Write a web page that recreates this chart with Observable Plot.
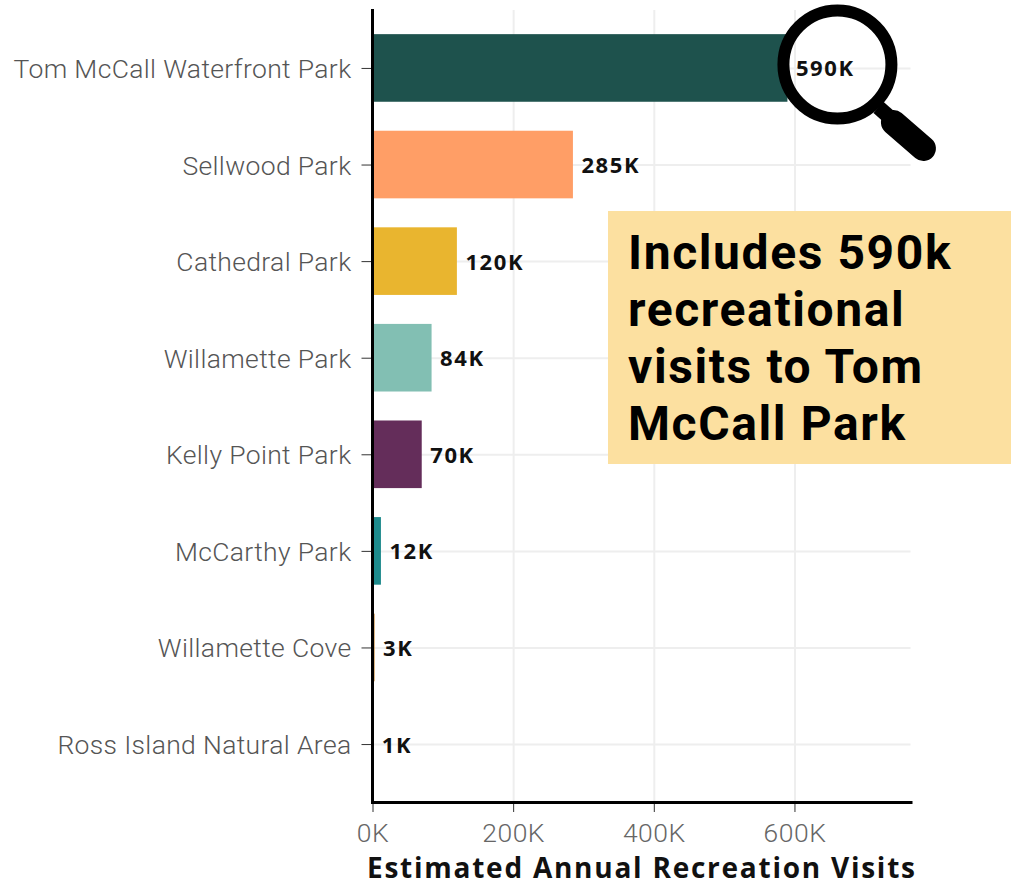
<!DOCTYPE html>
<html><head><meta charset="utf-8">
<script src="https://cdn.jsdelivr.net/npm/d3@7"></script>
<script src="https://cdn.jsdelivr.net/npm/@observablehq/plot@0.6"></script>
<style>html,body{margin:0;padding:0;background:#fff;overflow:hidden}#c{position:relative;width:1011px;height:886px;overflow:hidden}svg{position:absolute;left:0;top:0}
#note{position:absolute;left:608px;top:211px;width:403px;height:253px;background:#fce0a0;color:#000;font:700 48px/57px Roboto,sans-serif;padding:13px 0 0 20px;box-sizing:border-box;white-space:pre;letter-spacing:1.6px}
</style>
</head><body><div id="c"></div>
<script>
const parks=["Tom McCall Waterfront Park","Sellwood Park","Cathedral Park","Willamette Park","Kelly Point Park","McCarthy Park","Willamette Cove","Ross Island Natural Area"];
const visits=[590000,285000,120000,84000,70000,12000,3000,1000];
const labels=["590K","285K","120K","84K","70K","12K","3K","1K"];
const colors=["#1e524d","#ff9e66","#e9b52f","#82bfb3","#642d5a","#1d8a8c","#c68a3a","#e8e8e8"];
const xTicks=[0,200000,400000,600000];
const calloutLines=["Includes 590k","recreational","visits to Tom","McCall Park"];
const axisTitle="Estimated Annual Recreation Visits";
const rows=parks.map((p,i)=>({park:p,v:visits[i],label:labels[i],color:colors[i]}));
const font="Roboto, sans-serif";
const fmt=d=>d/1000+"K";
// magnifier icon, anchored on the end of the first bar
const magnifier=(index,{x,y},values,dims)=>{
  const cx=x(visits[0])+50, cy=y(parks[0])+y.bandwidth()/2-3.5;
  const g=d3.create("svg:g").attr("stroke","#000").attr("fill","none").attr("stroke-linecap","round");
  g.append("circle").attr("cx",cx).attr("cy",cy).attr("r",54).attr("stroke-width",12);
  g.append("line").attr("x1",cx+41).attr("y1",cy+43).attr("x2",cx+58).attr("y2",cy+58).attr("stroke-width",15).attr("stroke-linecap","butt");
  g.append("line").attr("x1",cx+56).attr("y1",cy+58).attr("x2",cx+86).attr("y2",cy+84).attr("stroke-width",25);
  return g.node();
};
const chart=Plot.plot({
 width:1011,height:886,marginLeft:372.5,marginRight:100.5,marginTop:10,marginBottom:84,
 style:{background:"transparent",fontFamily:font},
 x:{domain:[0,765000],label:null},
 y:{domain:parks,paddingInner:0.3,paddingOuter:0.25,round:false,label:null},
 marks:[
  Plot.gridX(xTicks,{stroke:"#eeeeee",strokeOpacity:1,strokeWidth:2}),
  Plot.gridY(parks,{stroke:"#eeeeee",strokeOpacity:1,strokeWidth:2}),
  Plot.barX(rows,{x:"v",y:"park",fill:d=>d.color}),
  Plot.axisY({tickSize:11,text:null,stroke:"#333",label:null}),
  Plot.axisY({tickSize:0,tickPadding:21.5,dy:1,fontSize:26.5,fontWeight:300,fill:"#555",label:null}),
  Plot.axisX({ticks:xTicks,text:null,stroke:"#333",tickSize:10,label:null}),
  Plot.axisX({ticks:xTicks,tickFormat:fmt,tickSize:0,tickPadding:21,fontSize:26.5,fontWeight:300,fill:"#666",label:null}),
  Plot.frame({anchor:"left",stroke:"#000",strokeWidth:3,dx:-0.5}),
  Plot.frame({anchor:"bottom",stroke:"#000",strokeWidth:3}),
  Plot.text(rows,{x:"v",y:"park",text:"label",dx:8,dy:1,textAnchor:"start",fontFamily:"'Open Sans',sans-serif",fontSize:22,fontWeight:700,fill:"#111"}),
  Plot.text([axisTitle],{frameAnchor:"bottom-left",dx:-6,dy:75,textAnchor:"start",fontFamily:"'Open Sans',sans-serif",fontSize:28,fontWeight:700,fill:"#111"}),
  magnifier
 ]
});
// Plot has no letter-spacing option, so set it on the rendered labels
const tickTexts=xTicks.map(fmt);
chart.querySelectorAll("text").forEach(t=>{
  const s=t.textContent;
  const sp=parks.includes(s)?.35:labels.includes(s)?1.6:tickTexts.includes(s)?.5:s===axisTitle?1.75:0;
  if(sp) t.style.letterSpacing=sp+"px";
});
const c=document.getElementById("c");
c.append(chart);
const note=document.createElement("div");note.id="note";note.textContent=calloutLines.join("\n");c.append(note);
</script></body></html>
